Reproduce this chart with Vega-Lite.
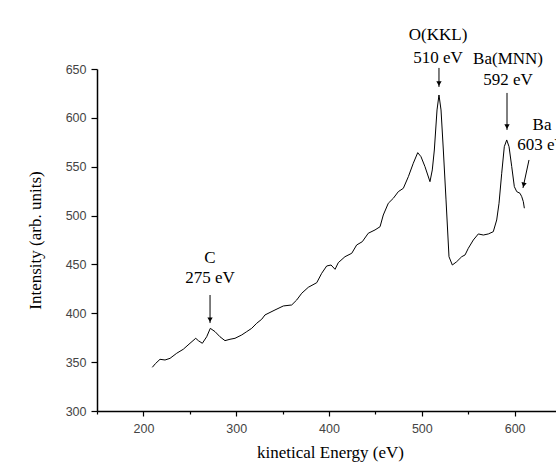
{
  "$schema": "https://vega.github.io/schema/vega-lite/v6.json",
  "width": 459,
  "height": 342,
  "autosize": "none",
  "padding": {"left": 97, "top": 69, "right": 0, "bottom": 54},
  "background": "white",
  "config": {
    "view": {"stroke": null},
    "axis": {
      "grid": false,
      "domainColor": "black",
      "domainWidth": 1.5,
      "tickColor": "black",
      "tickWidth": 1.2,
      "labelFont": "Liberation Sans",
      "labelFontSize": 12.5,
      "labelColor": "#444444",
      "titleFont": "Liberation Serif",
      "titleFontSize": 17,
      "titleFontWeight": "normal",
      "titleColor": "black"
    }
  },
  "datasets": {
    "spectrum": [
      {"e": 209.6, "i": 344.7}, {"e": 213.0, "i": 348.5}, {"e": 217.9, "i": 352.9}, {"e": 223.3, "i": 352.2}, {"e": 228.7, "i": 353.9},
      {"e": 235.9, "i": 359.1}, {"e": 243.0, "i": 363.2}, {"e": 250.2, "i": 369.3}, {"e": 256.4, "i": 374.4},
      {"e": 259.2, "i": 372.0}, {"e": 263.5, "i": 369.3}, {"e": 268.2, "i": 376.0}, {"e": 272.1, "i": 384.6},
      {"e": 277.2, "i": 381.2}, {"e": 282.5, "i": 376.0}, {"e": 287.9, "i": 372.0}, {"e": 293.3, "i": 373.4},
      {"e": 298.7, "i": 374.4}, {"e": 305.9, "i": 377.8}, {"e": 311.3, "i": 381.2}, {"e": 316.7, "i": 384.6},
      {"e": 322.1, "i": 389.8}, {"e": 327.5, "i": 393.9}, {"e": 331.0, "i": 398.3}, {"e": 341.8, "i": 403.4},
      {"e": 350.8, "i": 407.5}, {"e": 359.8, "i": 408.5}, {"e": 365.2, "i": 413.6}, {"e": 370.6, "i": 420.5},
      {"e": 377.7, "i": 426.6}, {"e": 386.8, "i": 431.3}, {"e": 392.1, "i": 440.9}, {"e": 397.5, "i": 448.4},
      {"e": 402.2, "i": 449.4}, {"e": 406.5, "i": 445.0}, {"e": 410.0, "i": 451.8}, {"e": 417.2, "i": 457.9},
      {"e": 424.5, "i": 461.4}, {"e": 429.8, "i": 469.9}, {"e": 435.9, "i": 473.3}, {"e": 442.3, "i": 481.9},
      {"e": 449.6, "i": 485.3}, {"e": 455.0, "i": 488.6}, {"e": 458.5, "i": 500.6}, {"e": 463.9, "i": 512.6},
      {"e": 469.3, "i": 517.7}, {"e": 474.7, "i": 524.5}, {"e": 480.1, "i": 527.9}, {"e": 485.5, "i": 539.8},
      {"e": 490.8, "i": 553.5}, {"e": 495.6, "i": 564.4}, {"e": 499.1, "i": 560.3}, {"e": 503.4, "i": 550.1},
      {"e": 508.8, "i": 534.7}, {"e": 511.3, "i": 546.7}, {"e": 513.5, "i": 567.1}, {"e": 516.4, "i": 608.1},
      {"e": 518.5, "i": 623.4}, {"e": 520.7, "i": 608.1}, {"e": 523.2, "i": 567.1}, {"e": 526.1, "i": 516.0},
      {"e": 529.3, "i": 457.9}, {"e": 532.9, "i": 449.4}, {"e": 537.6, "i": 452.8}, {"e": 543.0, "i": 457.9},
      {"e": 546.6, "i": 459.7}, {"e": 550.1, "i": 466.5}, {"e": 555.5, "i": 475.0}, {"e": 560.9, "i": 481.2},
      {"e": 566.3, "i": 480.1}, {"e": 571.7, "i": 481.2}, {"e": 577.0, "i": 483.5}, {"e": 580.7, "i": 495.5},
      {"e": 583.2, "i": 512.6}, {"e": 586.1, "i": 543.3}, {"e": 588.9, "i": 570.5}, {"e": 591.5, "i": 577.4},
      {"e": 594.0, "i": 570.5}, {"e": 596.9, "i": 550.1}, {"e": 599.7, "i": 529.6}, {"e": 602.3, "i": 524.5},
      {"e": 605.8, "i": 522.8}, {"e": 607.7, "i": 519.3}, {"e": 609.4, "i": 514.2}, {"e": 610.5, "i": 507.5}
    ],
    "labels": [
      {"x": 271.8, "y": 456.6, "t": "C"},
      {"x": 271.8, "y": 435.6, "t": "275 eV"},
      {"x": 517.5, "y": 684.8, "t": "O(KKL)"},
      {"x": 517.5, "y": 661.3, "t": "510 eV"},
      {"x": 592.9, "y": 660.3, "t": "Ba(MNN)"},
      {"x": 592.9, "y": 638.8, "t": "592 eV"},
      {"x": 629.5, "y": 592.7, "t": "Ba"},
      {"x": 629.5, "y": 572.3, "t": "603 eV"}
    ],
    "arrows": [
      {"x": 271.8, "y": 418.7, "x2": 271.8, "y2": 390.0, "hx": 271.8, "hy": 393.4, "a": 0},
      {"x": 518.5, "y": 651.1, "x2": 518.5, "y2": 631.6, "hx": 518.5, "hy": 635.0, "a": 0},
      {"x": 591.8, "y": 625.5, "x2": 591.8, "y2": 587.6, "hx": 591.8, "hy": 591.0, "a": 0},
      {"x": 615.5, "y": 556.9, "x2": 609.0, "y2": 528.2, "hx": 609.7, "hy": 531.4, "a": 12}
    ]
  },
  "layer": [
    {
      "data": {"name": "spectrum"},
      "mark": {"type": "line", "color": "black", "strokeWidth": 1, "clip": false},
      "encoding": {
        "x": {
          "field": "e", "type": "quantitative",
          "scale": {"domain": [150, 644.6], "nice": false, "zero": false},
          "axis": {
            "title": "kinetical Energy (eV)",
            "values": [150, 200, 250, 300, 350, 400, 450, 500, 550, 600],
            "labelExpr": "datum.value % 100 === 0 && datum.value > 150 ? datum.label : ''",
            "labelOverlap": false,
            "labelPadding": 6,
            "tickSize": {"condition": {"test": "datum.value % 100 === 0", "value": 5}, "value": 3},
            "titleX": 233,
            "titleY": 41,
            "titleBaseline": "middle",
            "titleAlign": "center"
          }
        },
        "y": {
          "field": "i", "type": "quantitative",
          "scale": {"domain": [300, 650], "nice": false, "zero": false},
          "axis": {
            "title": "Intensity (arb. units)",
            "values": [300, 325, 350, 375, 400, 425, 450, 475, 500, 525, 550, 575, 600, 625, 650],
            "labelExpr": "datum.value % 50 === 0 ? datum.label : ''",
            "labelOverlap": false,
            "labelPadding": 5,
            "tickSize": {"condition": {"test": "datum.value % 50 === 0", "value": 6}, "value": 3},
            "titleX": -62,
            "titleY": 171,
            "titleBaseline": "middle",
            "titleAlign": "center",
            "titleAngle": -90
          }
        }
      }
    },
    {
      "data": {"name": "arrows"},
      "mark": {"type": "rule", "color": "black", "strokeWidth": 1},
      "encoding": {
        "x": {"field": "x", "type": "quantitative"},
        "y": {"field": "y", "type": "quantitative"},
        "x2": {"field": "x2"},
        "y2": {"field": "y2"}
      }
    },
    {
      "data": {"name": "arrows"},
      "mark": {"type": "point", "shape": "triangle-down", "filled": true, "color": "black", "size": 28, "opacity": 1},
      "encoding": {
        "x": {"field": "hx", "type": "quantitative"},
        "y": {"field": "hy", "type": "quantitative"},
        "angle": {"field": "a", "type": "quantitative", "scale": {"domain": [0, 360], "range": [0, 360]}}
      }
    },
    {
      "data": {"name": "labels"},
      "mark": {"type": "text", "font": "Liberation Serif", "fontSize": 17, "color": "black", "align": "center", "baseline": "middle"},
      "encoding": {
        "x": {"field": "x", "type": "quantitative"},
        "y": {"field": "y", "type": "quantitative"},
        "text": {"field": "t"}
      }
    }
  ]
}
